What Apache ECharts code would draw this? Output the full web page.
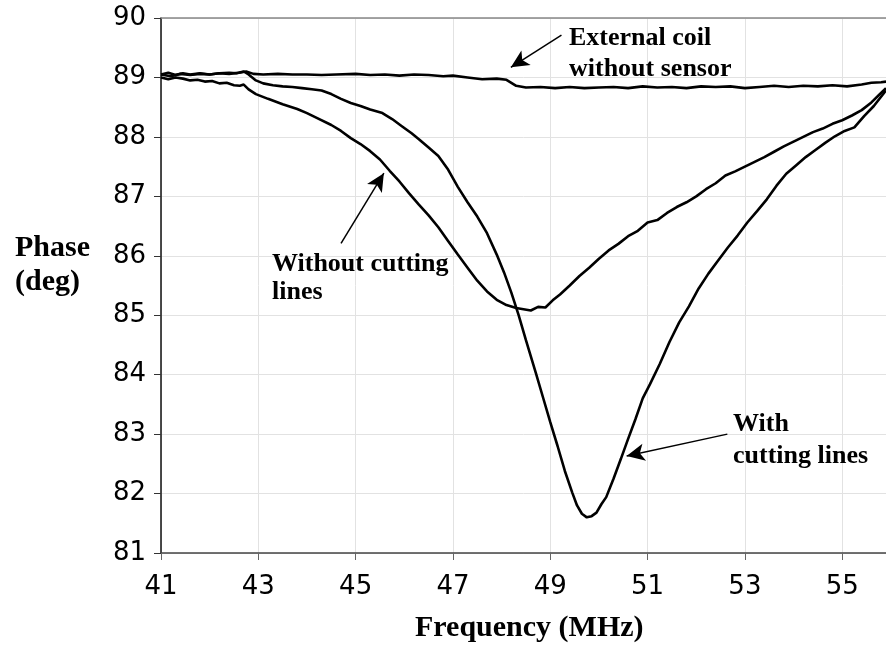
<!DOCTYPE html>
<html>
<head>
<meta charset="utf-8">
<script src="https://cdn.jsdelivr.net/npm/echarts@6/dist/echarts.min.js"></script>
<style>
  html, body { margin: 0; padding: 0; background: #fff; }
  #chart { width: 886px; height: 648px; }
</style>
</head>
<body>
<div id="chart"></div>
<script>
"use strict"

// external coil without sensor
const freqExt = [41.0, 41.2, 41.4, 41.6, 41.8, 42.0, 42.2, 42.4, 42.6, 42.75, 42.9, 43.1, 43.4, 43.7, 44.0, 44.3, 44.6, 45.0, 45.3, 45.6, 45.9, 46.2, 46.5, 46.8, 47.0, 47.3, 47.6, 47.9, 48.1, 48.3, 48.5, 48.8, 49.1, 49.4, 49.7, 50.0, 50.3, 50.6, 50.9, 51.2, 51.5, 51.8, 52.1, 52.4, 52.7, 53.0, 53.3, 53.6, 53.9, 54.2, 54.5, 54.8, 55.1, 55.4, 55.6, 55.8, 55.9];
const phaseExt = [89.05, 89.02, 89.06, 89.04, 89.06, 89.05, 89.07, 89.06, 89.08, 89.1, 89.06, 89.05, 89.06, 89.05, 89.05, 89.04, 89.05, 89.06, 89.04, 89.05, 89.03, 89.05, 89.04, 89.02, 89.03, 89.0, 88.97, 88.98, 88.96, 88.86, 88.83, 88.84, 88.82, 88.84, 88.82, 88.83, 88.84, 88.82, 88.85, 88.83, 88.84, 88.82, 88.85, 88.84, 88.85, 88.82, 88.84, 88.86, 88.84, 88.86, 88.85, 88.87, 88.85, 88.88, 88.91, 88.92, 88.93];

// without cutting lines
const freqWithout = [41.0, 41.15, 41.3, 41.45, 41.6, 41.75, 41.9, 42.05, 42.2, 42.35, 42.5, 42.62, 42.7, 42.8, 42.95, 43.2, 43.5, 43.8, 44.0, 44.2, 44.5, 44.7, 44.9, 45.1, 45.3, 45.5, 45.7, 45.9, 46.1, 46.3, 46.5, 46.7, 46.9, 47.1, 47.3, 47.5, 47.7, 47.9, 48.1, 48.3, 48.45, 48.6, 48.75, 48.9, 49.05, 49.2, 49.4, 49.6, 49.8, 50.0, 50.2, 50.4, 50.6, 50.8, 51.0, 51.2, 51.4, 51.6, 51.8, 52.0, 52.2, 52.4, 52.6, 52.8, 53.0, 53.2, 53.4, 53.6, 53.8, 54.0, 54.2, 54.4, 54.6, 54.8, 55.0, 55.2, 55.4, 55.6, 55.75, 55.9];
const phaseWithout = [89.0, 88.97, 89.0, 88.98, 88.95, 88.96, 88.93, 88.94, 88.9, 88.91, 88.87, 88.86, 88.88, 88.8, 88.72, 88.64, 88.55, 88.47, 88.4, 88.32, 88.2, 88.1, 87.98, 87.88, 87.76, 87.62, 87.43, 87.25, 87.05, 86.86, 86.68, 86.48, 86.25, 86.02, 85.8, 85.58, 85.4, 85.26, 85.17, 85.12, 85.1, 85.08, 85.14, 85.13, 85.25, 85.35, 85.5, 85.66, 85.8, 85.95, 86.09, 86.2, 86.33, 86.42, 86.56, 86.6, 86.72, 86.82, 86.9, 87.0, 87.12, 87.22, 87.35, 87.42, 87.5, 87.58, 87.66, 87.75, 87.84, 87.92, 88.0, 88.08, 88.14, 88.22, 88.28, 88.36, 88.45, 88.58, 88.7, 88.82];

// with cutting lines
const freqWith = [41.0, 41.15, 41.3, 41.45, 41.6, 41.8, 42.0, 42.2, 42.4, 42.55, 42.7, 42.8, 42.95, 43.1, 43.3, 43.5, 43.7, 43.9, 44.1, 44.3, 44.5, 44.7, 44.9, 45.1, 45.3, 45.55, 45.75, 45.95, 46.15, 46.3, 46.5, 46.7, 46.9, 47.1, 47.3, 47.5, 47.7, 47.9, 48.05, 48.2, 48.35, 48.5, 48.7, 48.85, 49.0, 49.15, 49.3, 49.45, 49.55, 49.65, 49.75, 49.85, 49.95, 50.05, 50.15, 50.3, 50.45, 50.6, 50.75, 50.9, 51.05, 51.25, 51.45, 51.65, 51.85, 52.05, 52.25, 52.45, 52.65, 52.85, 53.05, 53.25, 53.45, 53.65, 53.85, 54.05, 54.25, 54.45, 54.65, 54.85, 55.05, 55.25, 55.45, 55.65, 55.9];
const phaseWith = [89.05, 89.08, 89.04, 89.07, 89.05, 89.07, 89.05, 89.07, 89.08, 89.07, 89.1, 89.05, 88.95, 88.9, 88.87, 88.85, 88.84, 88.82, 88.8, 88.78, 88.72, 88.64, 88.57, 88.52, 88.46, 88.4, 88.3, 88.18, 88.06, 87.96, 87.82, 87.68, 87.45, 87.16, 86.9, 86.66, 86.38, 86.02, 85.72, 85.38, 85.0, 84.58, 84.04, 83.62, 83.2, 82.8, 82.38, 82.02, 81.8, 81.66, 81.6, 81.62, 81.68, 81.82, 81.94, 82.25, 82.58, 82.92, 83.25, 83.6, 83.84, 84.18, 84.55, 84.88, 85.15, 85.45, 85.7, 85.92, 86.14, 86.34, 86.56, 86.75, 86.95, 87.18, 87.38, 87.52, 87.66, 87.78, 87.9, 88.01, 88.1, 88.16, 88.35, 88.52, 88.78];

// arrows: [tail, head] in data units
const arrowExt = [[49.23, 89.71], [48.19, 89.17]];
const arrowWithout = [[44.7, 86.21], [45.58, 87.39]];
const arrowWith = [[52.64, 83.0], [50.57, 82.63]];

const xMin = 41;
const xMax = 55.9;
const yMin = 81;
const yMax = 90;

const tickFont = "DejaVu Sans";
const titleFont = "bold 30px 'Liberation Serif', 'Times New Roman', serif";
const noteFont = "bold 26px 'Liberation Serif', 'Times New Roman', serif";

const toPairs = (xs, ys) => xs.map((x, i) => [x, ys[i]]);

const arrowLine = (arrow) => ({
  silent: true,
  symbol: ["none", "arrow"],
  symbolSize: [13, 18],
  label: { show: false },
  lineStyle: { color: "#000", width: 1.5, type: "solid" },
  data: [[{ coord: arrow[0] }, { coord: arrow[1] }]]
});

const curve = (name, xs, ys, arrow) => ({
  name: name,
  type: "line",
  data: toPairs(xs, ys),
  showSymbol: false,
  smooth: false,
  lineStyle: { color: "#000", width: 2.6 },
  markLine: arrowLine(arrow)
});

const note = (text, x, y, lineHeight) => ({
  type: "text",
  left: x,
  top: y,
  z: 100,
  style: {
    text: text,
    font: noteFont,
    fill: "#000",
    lineHeight: lineHeight
  }
});

const chart = echarts.init(document.getElementById("chart"));

chart.setOption({
  animation: false,
  backgroundColor: "#fff",
  grid: { left: 161, right: 0, top: 18, bottom: 95, containLabel: false },
  xAxis: [{
    type: "value",
    min: xMin,
    max: xMax,
    interval: 2,
    axisLine: { show: true, lineStyle: { color: "#444", width: 1.5 } },
    axisTick: { show: true, length: 7, lineStyle: { color: "#666" } },
    axisLabel: {
      color: "#000",
      fontFamily: tickFont,
      fontSize: 26,
      margin: 21,
      showMaxLabel: false
    },
    splitLine: { show: true, lineStyle: { color: "#e2e2e2", width: 1 } }
  }, {
    type: "value",
    position: "top",
    min: xMin,
    max: xMax,
    axisLine: { show: true, lineStyle: { color: "#888", width: 1.5 } },
    axisTick: { show: false },
    axisLabel: { show: false },
    splitLine: { show: false }
  }],
  yAxis: {
    type: "value",
    min: yMin,
    max: yMax,
    interval: 1,
    axisLine: { show: true, lineStyle: { color: "#111", width: 1.5 } },
    axisTick: { show: true, length: 7, lineStyle: { color: "#333" } },
    axisLabel: {
      color: "#000",
      fontFamily: tickFont,
      fontSize: 26,
      margin: 15
    },
    splitLine: { show: true, lineStyle: { color: "#e2e2e2", width: 1 } }
  },
  graphic: [
    {
      type: "text",
      left: 15,
      top: 231,
      z: 100,
      style: { text: "Phase\n(deg)", font: titleFont, fill: "#000", lineHeight: 34 }
    },
    {
      type: "text",
      left: 415,
      top: 613,
      z: 100,
      style: { text: "Frequency (MHz)", font: titleFont, fill: "#000" }
    },
    note("External coil\nwithout sensor", 569, 23, 31),
    note("Without cutting\nlines", 272, 250, 28),
    note("With\ncutting lines", 733, 408, 32)
  ],
  series: [
    curve("External coil without sensor", freqExt, phaseExt, arrowExt),
    curve("Without cutting lines", freqWithout, phaseWithout, arrowWithout),
    curve("With cutting lines", freqWith, phaseWith, arrowWith)
  ]
});
</script>
</body>
</html>
